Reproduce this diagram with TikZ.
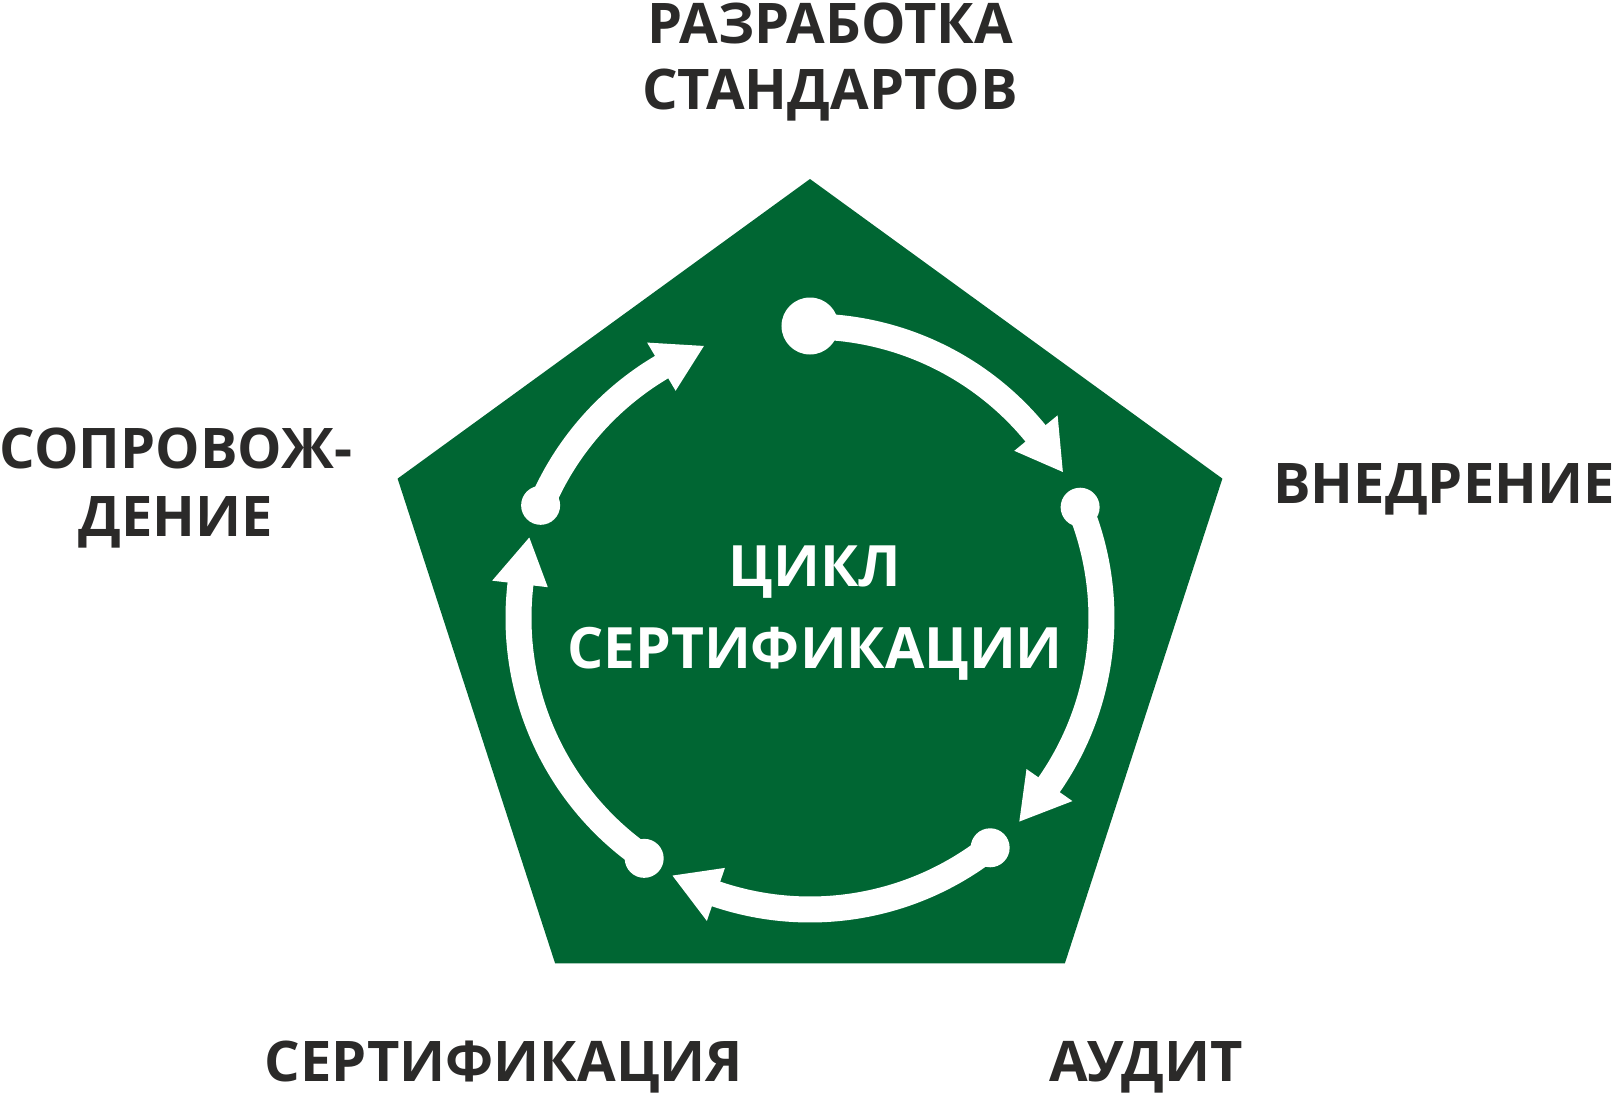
\documentclass[tikz,border=0pt]{standalone}
\usepackage{fontspec}
\setmainfont{Open Sans}
\usetikzlibrary{calc}
\definecolor{cyclegreen}{HTML}{006633}
\definecolor{labelink}{HTML}{2B2A29}

\begin{document}
\begin{tikzpicture}[
    x=0.5pt, y=0.5pt,
    line join=round,
    stagelabel/.style={font=\bfseries\fontsize{28}{33}\selectfont, text=labelink, align=center, inner sep=0pt, anchor=base},
    titlelabel/.style={font=\bfseries\fontsize{28.5}{41}\selectfont, text=white, align=center, inner sep=0pt, anchor=base}
]
    \useasboundingbox (-810,-476) rectangle (804,618);

    % Green Pentagon
    \fill[cyclegreen, shift={(0,5.4)}] (90:433.6) -- (18:433.6) -- (-54:433.6) -- (-126:433.6) -- (162:433.6) -- cycle;

    % Cycle Arrows: start dot / arrow tip / dot radius
    \foreach \s/\t/\r in {90/30/28.5, 22.3/-44.2/19.5, -51.9/-118.1/19.5, -124.6/-196/19.5, -202.7/-248.7/19.5} {
        \pgfmathsetmacro\b{\t+9.3}
        \pgfmathsetmacro\e{\b-1.5}
        \draw[white, line width=13pt] (\s:291.5) arc[start angle=\s, end angle=\e, radius=291.5];
        \fill[white] (\b:264) -- (\t:292) -- (\b:320) -- cycle; % Head
        \fill[white] (\s:292) circle (\r); % Dot
    }

    % Title in the Middle (base = last line)
    \node[titlelabel] (title) at (5,-50) {ЦИКЛ\\СЕРТИФИКАЦИИ};

    % Stage Labels round the Pentagon
    \node[stagelabel] (standards) at (20,509) {РАЗРАБОТКА\\СТАНДАРТОВ};
    \node[stagelabel] (rollout) at (634,114.7) {ВНЕДРЕНИЕ};
    \node[stagelabel] (audit) at (336,-463.7) {АУДИТ};
    \node[stagelabel] (certify) at (-306,-463.7) {СЕРТИФИКАЦИЯ};
    \node[stagelabel, font=\bfseries\fontsize{28}{34}\selectfont] (support) at (-634,81.3) {СОПРОВОЖ-\\ДЕНИЕ};

\end{tikzpicture}
\end{document}
